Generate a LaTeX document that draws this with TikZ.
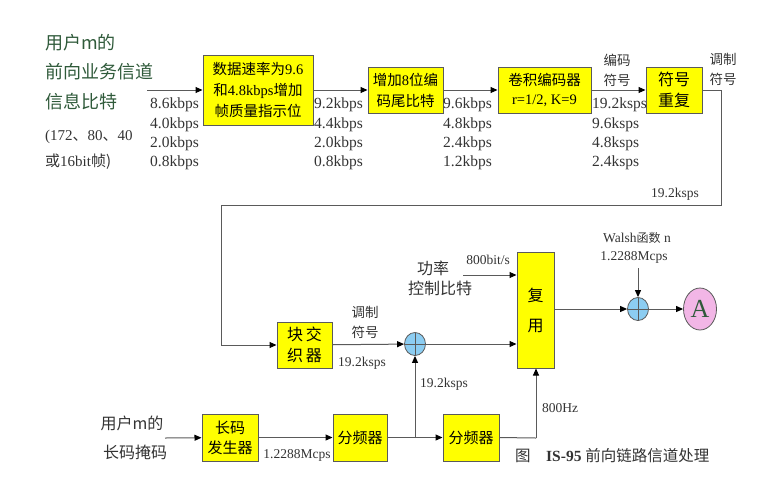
\documentclass[tikz,border=0pt]{standalone}
\usepackage{fontspec}
\setmainfont{Liberation Serif}
\newfontfamily\cjk{Noto Sans CJK SC}
\usetikzlibrary{arrows.meta,shapes.geometric}
\definecolor{boxyellow}{HTML}{FFFF00}
\definecolor{linegray}{HTML}{5A5A5A}
\definecolor{txtgreen}{HTML}{2F5A3A}
\definecolor{txtgray}{HTML}{333333}
\definecolor{xorblue}{HTML}{8CCDF2}
\definecolor{apink}{HTML}{F2B6E6}
\begin{document}
\begin{tikzpicture}[x=1pt,y=-1pt,
  box/.style={draw=linegray,fill=boxyellow,line width=1pt,inner sep=0pt,align=center,text=black},
  ln/.style={draw=linegray,line width=1pt},
  arr/.style={ln,-{Triangle[length=7pt,width=6pt,color=black]}},
  xorc/.style={draw=linegray,fill=xorblue,line width=0.8pt,ellipse,minimum width=21pt,minimum height=23pt,inner sep=0pt,
    path picture={\draw[linegray,line width=0.8pt] (path picture bounding box.north) -- (path picture bounding box.south)
      (path picture bounding box.west) -- (path picture bounding box.east);}},
  lab/.style={font=\fontsize{15}{17}\selectfont,text=txtgray,inner sep=0pt},
  slab/.style={font=\fontsize{13.5}{15}\selectfont,text=txtgray,inner sep=0pt},
  zh/.style={font=\cjk\fontsize{13.5}{20}\selectfont,text=txtgray,inner sep=0pt,align=center},
]
\useasboundingbox (0,0) rectangle (773,491);
% top row boxes
\node[box,minimum width=110pt,minimum height=70pt,font=\fontsize{14.5}{21}\selectfont] (b1) at (258,90)
  {{\cjk 数据速率为}9.6\\{\cjk 和}4.8kbps{\cjk 增加}\\{\cjk 帧质量指示位}};
\node[box,minimum width=75pt,minimum height=46pt,font=\fontsize{14.5}{21}\selectfont] (b2) at (405.5,90)
  {{\cjk 增加}8{\cjk 位编}\\{\cjk 码尾比特}};
\node[box,minimum width=93pt,minimum height=46pt,font=\fontsize{14.5}{19}\selectfont] (b3) at (544.5,90)
  {{\cjk 卷积编码器}\\r=1/2, K=9};
\node[box,minimum width=56pt,minimum height=46pt,font=\cjk\fontsize{16}{21}\selectfont] (b4) at (674,90)
  {符号\\重复};
% lower boxes
\node[box,minimum width=55pt,minimum height=46pt,font=\cjk\fontsize{16}{21}\selectfont] (il) at (304.5,345)
  {块\,交\\织\,器};
\node[xorc] (x1) at (415,344) {};
\node[box,minimum width=37pt,minimum height=116pt,font=\cjk\fontsize{16}{30}\selectfont] (mux) at (535.5,310)
  {复\\用};
\node[xorc] (x2) at (638,309) {};
\node[draw=linegray,fill=apink,line width=0.8pt,ellipse,minimum width=33pt,minimum height=42pt,inner sep=0pt,
  text=txtgreen,font=\fontsize{26}{26}\selectfont] (A) at (700,309) {A};
\node[box,minimum width=56pt,minimum height=47pt,font=\cjk\fontsize{15}{20}\selectfont] (lc) at (230,437.5)
  {长码\\发生器};
\node[box,minimum width=54pt,minimum height=47pt,font=\cjk\fontsize{15}{20}\selectfont] (d1) at (360,437.5) {分频器};
\node[box,minimum width=56pt,minimum height=47pt,font=\cjk\fontsize{15}{20}\selectfont] (d2) at (471,437.5) {分频器};
% coordinates
\coordinate (in1) at (147,90);
\coordinate (t1) at (721,90);
\coordinate (t2) at (721,205);
\coordinate (t3) at (221,205);
\coordinate (t4) at (221,345);
\coordinate (pc) at (463,275);
\coordinate (wa) at (638,268);
\coordinate (in2) at (165,438);
\coordinate (br) at (415,438);
\coordinate (c8) at (536,438);
% connectors
\draw[arr] (in1) -- (b1);
\draw[arr] (b1) -- (b2);
\draw[arr] (b2) -- (b3);
\draw[arr] (b3) -- (b4);
\draw[ln] (b4.east) -- (t1) -- (t2) -- (t3) -- (t4);
\draw[arr] (t4) -- (il.west);
\draw[arr] (il) -- (x1);
\draw[arr] (x1) -- (x1 -| mux.west);
\draw[arr] (pc) -- (pc -| mux.west);
\draw[arr] (mux.east |- x2) -- (x2);
\draw[arr] (wa) -- (x2);
\draw[arr] (x2) -- (A);
\draw[arr] (in2) -- (lc);
\draw[arr] (lc) -- (d1);
\draw[arr] (d1) -- (d2);
\draw[arr] (br) -- (x1);
\draw[ln] (d2.east) -- (c8);
\draw[arr] (c8) -- (c8 |- mux.south);
% texts top-left
\node[font=\cjk\fontsize{18}{18}\selectfont,text=txtgreen,anchor=west,inner sep=0pt] (g1) at (45,43) {用户m的};
\node[font=\cjk\fontsize{18}{18}\selectfont,text=txtgreen,anchor=west,inner sep=0pt] (g2) at (45,72) {前向业务信道};
\node[font=\cjk\fontsize{18}{18}\selectfont,text=txtgreen,anchor=west,inner sep=0pt] (g3) at (45,102) {信息比特};
\node[lab,anchor=west] (f1) at (45,137) {(172{\cjk 、}80{\cjk 、}40};
\node[lab,anchor=west] (f2) at (45,162) {{\cjk 或}16bit{\cjk 帧}{\cjk )}};
% rate columns
\node[lab,anchor=north west,align=left,font=\fontsize{15.5}{19.3}\selectfont] (r1) at (150,98) {8.6kbps\\4.0kbps\\2.0kbps\\0.8kbps};
\node[lab,anchor=north west,align=left,font=\fontsize{15.5}{19.3}\selectfont] (r2) at (314,98) {9.2kbps\\4.4kbps\\2.0kbps\\0.8kbps};
\node[lab,anchor=north west,align=left,font=\fontsize{15.5}{19.3}\selectfont] (r3) at (443,98) {9.6kbps\\4.8kbps\\2.4kbps\\1.2kbps};
\node[lab,anchor=north west,align=left,font=\fontsize{15.5}{19.3}\selectfont] (r4) at (592,98) {19.2ksps\\9.6ksps\\4.8ksps\\2.4ksps};
\node[zh] (es) at (617,70) {编码\\符号};
\node[zh] (ms) at (723,69) {调制\\符号};
\node[slab] (r5) at (675,194) {19.2ksps};
% lower texts
\node[zh] (ms2) at (365,322) {调制\\符号};
\node[slab] (r6) at (362,363) {19.2ksps};
\node[zh,font=\cjk\fontsize{16}{19}\selectfont] (pw1) at (433,268) {功率};
\node[zh,font=\cjk\fontsize{16}{19}\selectfont] (pw2) at (440,288) {控制比特};
\node[slab] (r7) at (488,260) {800bit/s};
\node[slab] (w1) at (637,238) {Walsh{\cjk\fontsize{12}{13}\selectfont 函数} n};
\node[slab] (w2) at (634,257) {1.2288Mcps};
\node[font=\cjk\fontsize{16}{16}\selectfont,text=txtgray,inner sep=0pt] (u1) at (132,423) {用户m的};
\node[font=\cjk\fontsize{16}{16}\selectfont,text=txtgray,inner sep=0pt] (u2) at (135,452) {长码掩码};
\node[slab] (r8) at (297,455) {1.2288Mcps};
\node[slab,anchor=west] (r9) at (420,384) {19.2ksps};
\node[slab] (r10) at (560,408) {800Hz};
\node[font=\fontsize{15.5}{15}\selectfont,text=txtgray,anchor=west,inner sep=0pt] (cap) at (515,456)
  {{\cjk 图}\quad\textbf{IS-95} {\cjk 前向链路信道处理}};
\end{tikzpicture}
\end{document}
